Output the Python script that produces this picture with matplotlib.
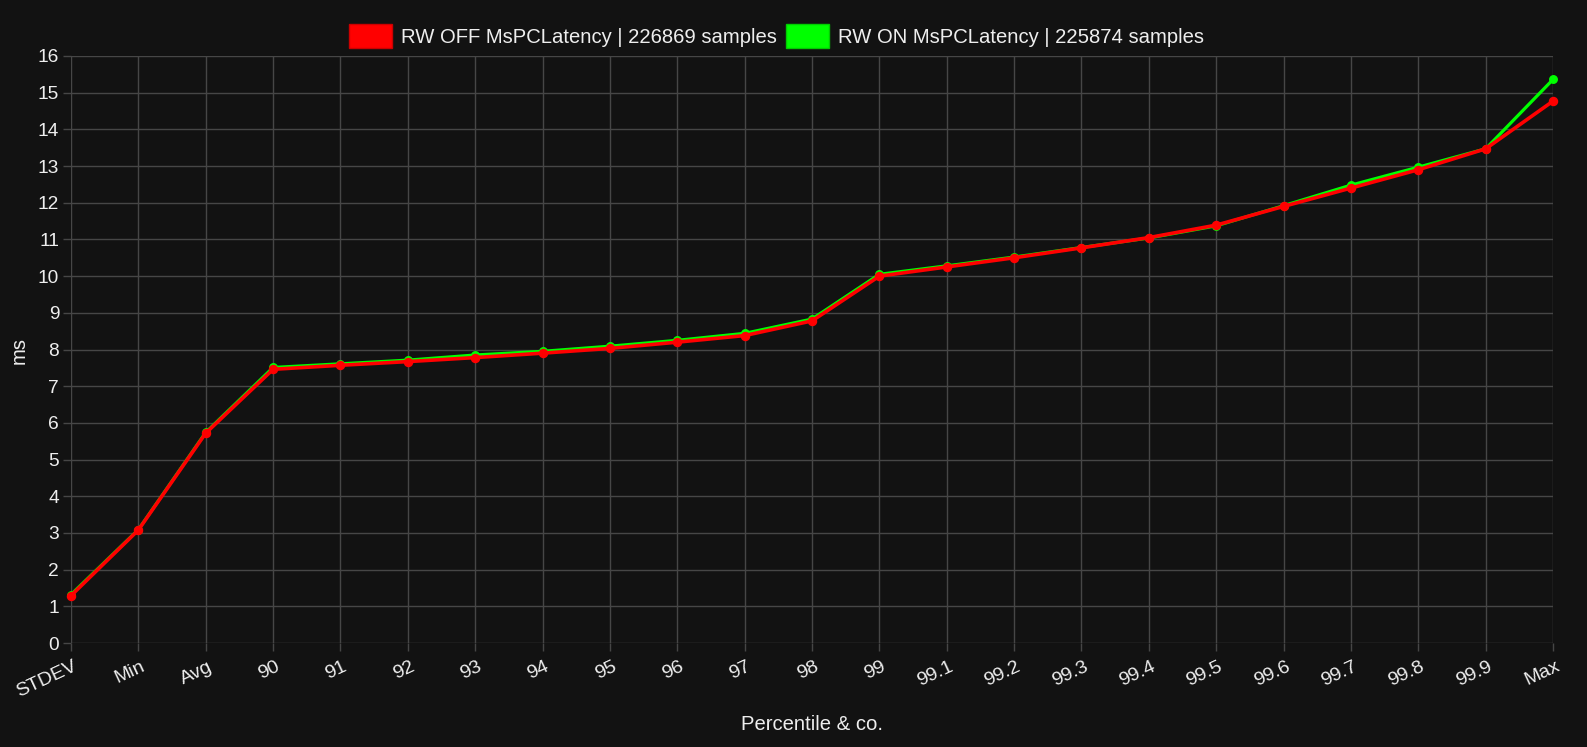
import matplotlib.pyplot as plt
from matplotlib.patches import Patch
from matplotlib.transforms import ScaledTranslation

plt.rcParams['font.family'] = ['Liberation Sans', 'DejaVu Sans']

# categories on the x axis
labels = ['STDEV', 'Min', 'Avg', '90', '91', '92', '93', '94', '95', '96', '97', '98',
          '99', '99.1', '99.2', '99.3', '99.4', '99.5', '99.6', '99.7', '99.8', '99.9', 'Max']

# RW OFF (red) and RW ON (green), in ms
rw_off = [1.29, 3.08, 5.72, 7.46, 7.57, 7.67, 7.78, 7.90, 8.03, 8.20, 8.38, 8.78,
          10.00, 10.25, 10.50, 10.77, 11.05, 11.39, 11.90, 12.40, 12.90, 13.47, 14.77]
rw_on = [1.32, 3.09, 5.74, 7.51, 7.61, 7.71, 7.85, 7.95, 8.09, 8.25, 8.44, 8.83,
         10.05, 10.28, 10.52, 10.78, 11.04, 11.37, 11.92, 12.48, 12.97, 13.47, 15.36]

off_label = 'RW OFF MsPCLatency | 226869 samples'
on_label = 'RW ON MsPCLatency | 225874 samples'

bg = '#121212'
grid = '#464646'
txt = '#eeeeee'

fig = plt.figure(figsize=(15.87, 7.47), dpi=100, facecolor=bg)
ax = fig.add_axes([71 / 1587, 104 / 747, (1553 - 71) / 1587, (643 - 56) / 747])
ax.set_facecolor(bg)

x = list(range(len(labels)))
ax.plot(x, rw_on, color='#00ff00', lw=2.3, marker='o', ms=5.4, zorder=3, clip_on=False)
ax.plot(x, rw_off, color='#ff0000', lw=2.6, marker='o', ms=5.8, zorder=4, clip_on=False)

ax.set_xlim(0, len(labels) - 1)
ax.set_ylim(0, 16)
ax.set_yticks(range(0, 17))
ax.set_xticks(x)
ax.set_xticklabels([])

# rotated category labels, top-right corner just right of each tick (chart.js style)
lab_tr = ax.get_xaxis_transform() + ScaledTranslation(2 / 100, -15 / 100, fig.dpi_scale_trans)
for xi, lab in zip(x, labels):
    ax.text(xi, 0, lab, transform=lab_tr, rotation=25, rotation_mode='anchor',
            ha='right', va='top', color=txt, fontsize=14, clip_on=False)

ax.grid(True, color=grid, lw=1)
ax.set_axisbelow(True)
for s in ax.spines.values():
    s.set_visible(False)
ax.tick_params(colors=grid, length=6, width=1, labelcolor=txt, labelsize=13.8, pad=2.5)

fig.text(812 / 1587, 1 - 724 / 747, 'Percentile & co.', color=txt, fontsize=14.6,
         ha='center', va='center')
fig.text(19 / 1587, 1 - 350 / 747, 'ms', color=txt, fontsize=14.6, rotation=90,
         ha='center', va='center')

handles = [Patch(facecolor='#ff0000', edgecolor='#cc0000', label=off_label),
           Patch(facecolor='#00ff00', edgecolor='#00cc00', label=on_label)]
fig.legend(handles=handles, loc='center', bbox_to_anchor=(776.5 / 1587, 1 - 36 / 747), ncol=2,
           frameon=False, fontsize=14.6, labelcolor=txt, handlelength=2.12,
           handleheight=1.37, handletextpad=0.44, columnspacing=0.44)

fig.savefig('out.png', dpi=100, facecolor=bg)
